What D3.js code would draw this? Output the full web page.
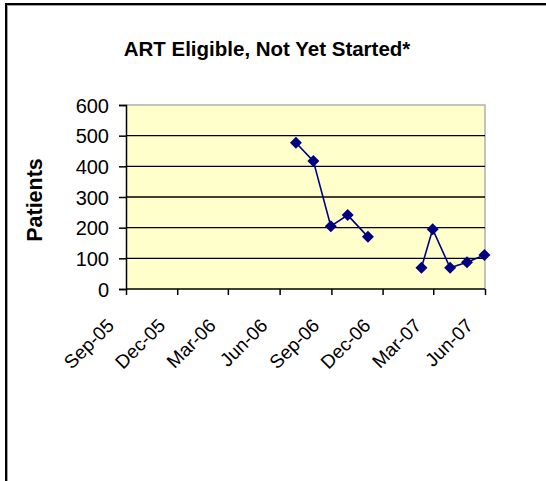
<!DOCTYPE html>
<html><head><meta charset="utf-8">
<script src="https://cdn.jsdelivr.net/npm/d3@7"></script>
<style>body{margin:0;background:#fff;}svg{display:block;}</style>
</head><body>
<script>
const title = "ART Eligible, Not Yet Started*";
const yAxisTitle = "Patients";
const dates = ["2006-06-30","2006-07-31","2006-08-31","2006-09-30","2006-11-05","2006-12-15","2007-01-15","2007-02-08","2007-02-28","2007-03-31","2007-04-30","2007-05-31"];
const patients = [477, 417, 205, 241, 170, null, null, 69, 195, 69, 87, 111];
const xTickDates = ["2005-09-01","2005-12-01","2006-03-01","2006-06-01","2006-09-01","2006-12-01","2007-03-01","2007-06-01"];
const xTickLabels = ["Sep-05","Dec-05","Mar-06","Jun-06","Sep-06","Dec-06","Mar-07","Jun-07"];
const yTicks = [0,100,200,300,400,500,600];

const W = 546, H = 481;
const FONT = "Liberation Sans, Arial, sans-serif";
const parse = d3.utcParse("%Y-%m-%d");
const svg = d3.select("body").append("svg").attr("width", W).attr("height", H);

// outer frame
svg.append("rect").attr("x",7.5).attr("y",5.5).attr("width",W).attr("height",H)
  .attr("fill","none").attr("stroke","#a0a0a0").attr("stroke-width",1);
svg.append("rect").attr("x",6).attr("y",4).attr("width",W).attr("height",H)
  .attr("fill","none").attr("stroke","#000").attr("stroke-width",2);

const L = 126, R = 485, T = 105, B = 289;
const x = d3.scaleUtc().domain([parse(xTickDates[0]), parse(xTickDates[xTickDates.length-1])]).range([L, R]);
const y = d3.scaleLinear().domain([0, 600]).range([B, T]);

// plot area
svg.append("rect").attr("x",L).attr("y",T).attr("width",R-L).attr("height",B-T)
  .attr("fill","#FFFFCC").attr("stroke","none");
svg.append("path").attr("d",`M${L},${T}H${R}V${B}`).attr("fill","none")
  .attr("stroke","#b0b0b0").attr("stroke-width",1.5);

// gridlines
svg.append("g").selectAll("line").data(yTicks.filter(d=>d>0 && d<600)).join("line")
  .attr("x1",L).attr("x2",R).attr("y1",d=>y(d)).attr("y2",d=>y(d))
  .attr("stroke","#000").attr("stroke-width",1.3);

// y axis
const yAxis = d3.axisLeft(y).tickValues(yTicks).tickSize(7).tickPadding(10).tickFormat(d3.format("d"));
const gy = svg.append("g").attr("transform",`translate(${L},0)`).call(yAxis);
gy.select(".domain").attr("stroke","#000").attr("stroke-width",1.5);
gy.selectAll(".tick line").attr("stroke","#000").attr("stroke-width",1.5);
gy.selectAll(".tick text").attr("font-family",FONT)
  .attr("font-size",20).attr("fill","#000").attr("dy","0.36em");

// x axis
const xAxis = d3.axisBottom(x).tickValues(xTickDates.map(parse)).tickSize(6)
  .tickFormat((d,i)=>xTickLabels[i]);
const gx = svg.append("g").attr("transform",`translate(0,${B})`).call(xAxis);
gx.select(".domain").attr("stroke","#000").attr("stroke-width",1.5).attr("d",`M${L},0H${R}`);
gx.selectAll(".tick line").attr("stroke","#000").attr("stroke-width",1.5);
gx.selectAll(".tick text").attr("font-family",FONT)
  .attr("font-size",19).attr("fill","#000")
  .attr("text-anchor","end").attr("y",0).attr("dy","0.35em")
  .attr("transform","translate(-16,33) rotate(-45)");

// line + markers
const pts = dates.map((d,i)=>({d:parse(d), v:patients[i]}));
svg.append("path").datum(pts).attr("fill","none").attr("stroke","#000080").attr("stroke-width",1.6)
  .attr("d", d3.line().defined(p=>p.v!==null).x(p=>x(p.d)).y(p=>y(p.v)));
svg.append("g").selectAll("path").data(pts.filter(p=>p.v!==null)).join("path")
  .attr("transform",p=>`translate(${x(p.d)},${y(p.v)}) rotate(45)`)
  .attr("d", d3.symbol().type(d3.symbolSquare).size(72))
  .attr("fill","#000080");

// title
svg.append("text").attr("x",267).attr("y",56).attr("text-anchor","middle")
  .attr("font-family",FONT).attr("font-weight","bold")
  .attr("font-size",20.5).attr("fill","#000").text(title);

// y axis title
svg.append("text").attr("transform","translate(42,200) rotate(-90)").attr("text-anchor","middle")
  .attr("font-family",FONT).attr("font-weight","bold")
  .attr("font-size",21.5).attr("fill","#000").text(yAxisTitle);
</script>
</body></html>
